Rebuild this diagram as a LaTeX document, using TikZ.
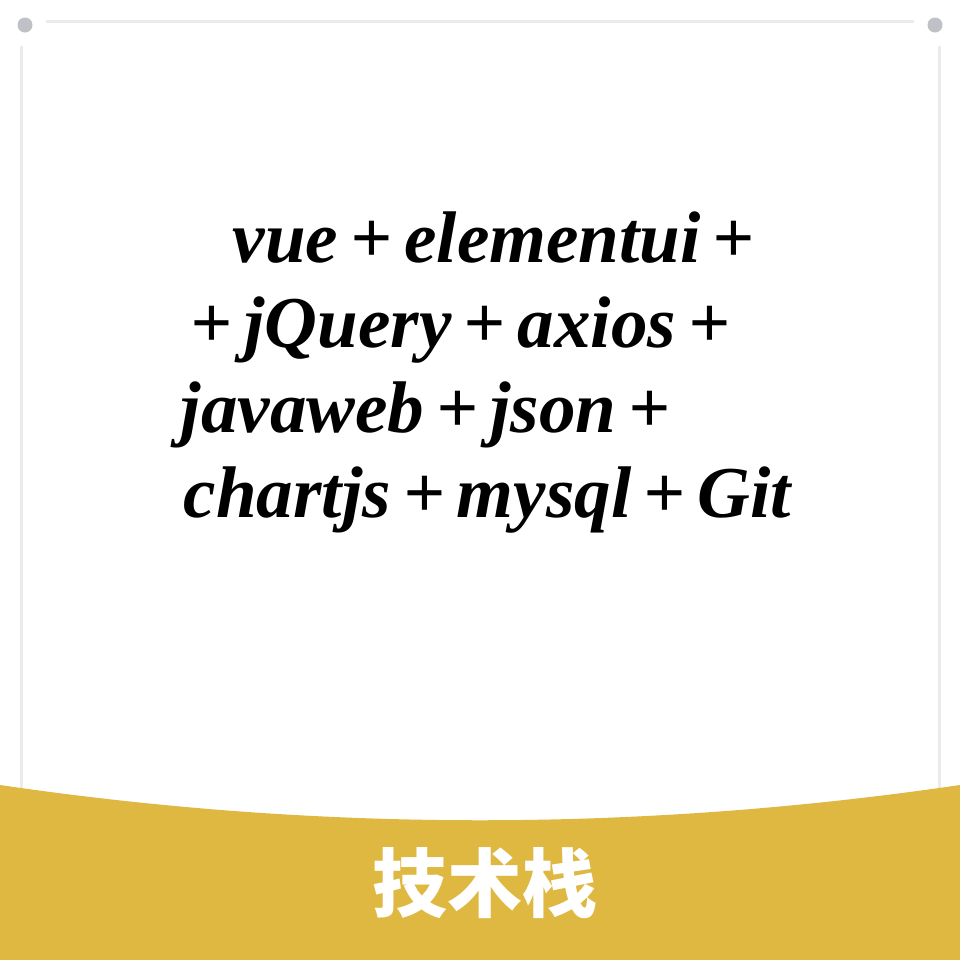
\documentclass[tikz,border=0pt]{standalone}
\usepackage{fontspec}
\setmainfont{Liberation Serif}
\newfontfamily\cjk{Noto Sans CJK SC}
\definecolor{bandgold}{HTML}{DFB841}
\definecolor{framegrey}{HTML}{EBEBEB}
\definecolor{dotgrey}{HTML}{BFC1C7}
\tikzset{
  stackline/.style={anchor=base west, inner sep=0pt, font=\fontsize{20.8}{24}\selectfont\bfseries\itshape},
  framerule/.style={framegrey, line width=0.3mm}
}
\newcommand{\plussep}{\,+\,}

\begin{document}
\begin{tikzpicture}[x=0.1mm,y=-0.1mm]
  \useasboundingbox[fill=white] (0,0) rectangle (960,960);
  \draw[framerule] (46,21) -- (914,21);
  \draw[framerule] (21,46) -- (21,800);
  \draw[framerule] (939,46) -- (939,800);
  \fill[dotgrey] (25,25) circle (7.5);
  \fill[dotgrey] (935,25) circle (7.5);
  \node[stackline] (lineA) at (232,262) {vue\plussep elementui\plussep};
  \node[stackline] (lineB) at (190,347) {+\,jQuery\plussep axios\plussep};
  \node[stackline] (lineC) at (180,432) {javaweb\plussep json\plussep};
  \node[stackline] (lineD) at (183,517) {chartjs\plussep mysql\plussep Git};
  \fill[bandgold]
    (0,785) .. controls (320,832) and (640,832) .. (960,785) -- (960,960) -- (0,960) -- cycle;
  \node[white, font=\cjk\bfseries\fontsize{21.3}{24}\selectfont] (stacktitle) at (485,883) {技术栈};
\end{tikzpicture}
\end{document}
